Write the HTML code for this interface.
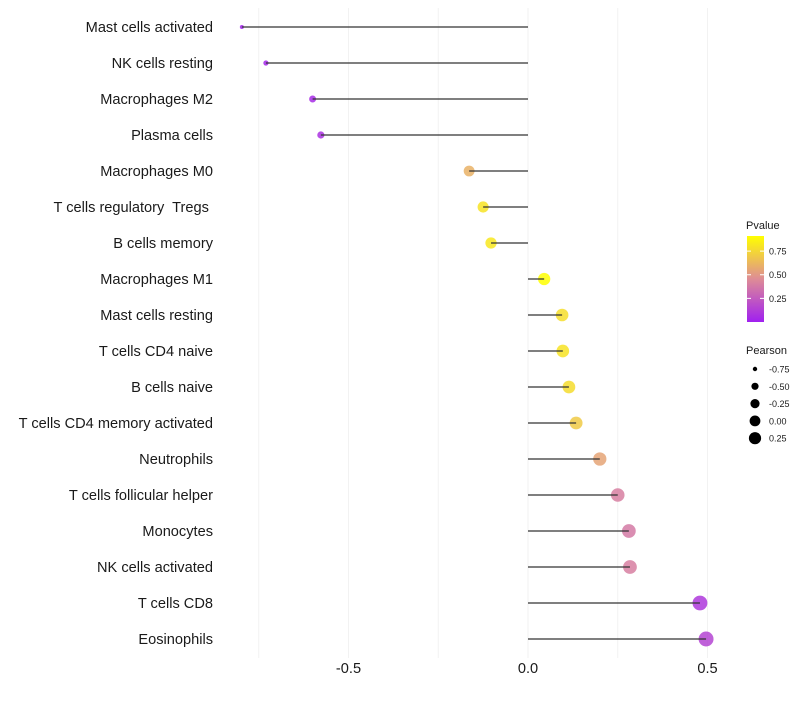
<!DOCTYPE html>
<html><head><meta charset="utf-8"><style>
body{margin:0;background:#fff;font-family:"Liberation Sans",sans-serif}
text{white-space:pre}
</style></head><body>
<svg id="c" width="800" height="700" xmlns="http://www.w3.org/2000/svg"></svg>
<script>
const cells=["Mast cells activated","NK cells resting","Macrophages M2","Plasma cells","Macrophages M0","T cells regulatory  Tregs ","B cells memory","Macrophages M1","Mast cells resting","T cells CD4 naive","B cells naive","T cells CD4 memory activated","Neutrophils","T cells follicular helper","Monocytes","NK cells activated","T cells CD8","Eosinophils"];
const pearson=[-0.797,-0.73,-0.60,-0.577,-0.164,-0.125,-0.103,0.045,0.095,0.097,0.114,0.134,0.20,0.25,0.281,0.284,0.479,0.496];
const pvalue=[0.02,0.03,0.05,0.07,0.6,0.8,0.82,0.91,0.78,0.8,0.77,0.7,0.55,0.4,0.38,0.4,0.1,0.15];
const xTicks=[-0.5,0.0,0.5];
const xTickLabels=["-0.5","0.0","0.5"];
const pTicks=[0.25,0.5,0.75];
const pTickLabels=["0.25","0.50","0.75"];
const sizeLegend=[-0.75,-0.5,-0.25,0,0.25];
const sizeLegendLabels=["-0.75","-0.50","-0.25","0.00","0.25"];

const svg=document.getElementById('c');
const NS='http://www.w3.org/2000/svg';
function mk(t,a,p){const e=document.createElementNS(NS,t);for(const k in a)e.setAttribute(k,a[k]);(p||svg).appendChild(e);return e;}
const x=v=>528+v*359;
const y=i=>27+i*36;
const r=v=>Math.sqrt(Math.max(3,4+(v+0.8)*40));
function col(p){const t=Math.min(1,Math.max(0,p/0.91));
 const s=[[160,32,240],[222,140,150],[255,255,0]];
 let a,b,u; if(t<0.5){a=s[0];b=s[1];u=t/0.5}else{a=s[1];b=s[2];u=(t-0.5)/0.5}
 return 'rgb('+a.map((c,i)=>Math.round(c+(b[i]-c)*u)).join(',')+')';}

const grid=mk('g',{});


for(let v=-0.75;v<=0.5001;v+=0.25){const l=mk('line',{x1:x(v),x2:x(v),y1:8,y2:658,stroke:'#f2f2f2','stroke-width':1},grid);

}

cells.forEach((c,i)=>{
 const t=mk('text',{x:213,y:y(i)+5,'text-anchor':'end','font-size':14.6,fill:'#1a1a1a'});
 t.textContent=c;
 
 
 const d=mk('circle',{cx:x(pearson[i]),cy:y(i),r:r(pearson[i]),fill:col(pvalue[i]),'fill-opacity':0.85});
 
 
 const l=mk('line',{x1:x(0),x2:x(pearson[i]),y1:y(i),y2:y(i),stroke:'#333','stroke-width':1.2});
 
 
});
xTicks.forEach((v,i)=>{const t=mk('text',{x:x(v),y:673,'text-anchor':'middle','font-size':14.6,fill:'#1a1a1a'});
 t.textContent=xTickLabels[i];
 
 });

const lg=mk('g',{});


const tt=mk('text',{x:746,y:229,'font-size':11,fill:'#1a1a1a'},lg);tt.textContent='Pvalue';
const defs=mk('defs',{});
const gr=mk('linearGradient',{id:'pg',x1:0,y1:1,x2:0,y2:0},defs);
[0,0.25,0.5,0.75,1].forEach(o=>mk('stop',{offset:o,'stop-color':col(o*0.91)},gr));
const bar=mk('rect',{x:747,y:236,width:17,height:86,fill:'url(#pg)'},lg);


const py=p=>322-p/0.91*86;
pTicks.forEach((p,i)=>{mk('line',{x1:747,x2:751,y1:py(p),y2:py(p),stroke:'#fff'},lg);mk('line',{x1:760,x2:764,y1:py(p),y2:py(p),stroke:'#fff'},lg);
 const t=mk('text',{x:769,y:py(p)+3.5,'font-size':9,fill:'#1a1a1a'},lg);t.textContent=pTickLabels[i];});
const sg=mk('g',{});


const st=mk('text',{x:746,y:354,'font-size':11,fill:'#1a1a1a'},sg);st.textContent='Pearson';
sizeLegend.forEach((v,i)=>{const cy=369+i*17.3;
 mk('circle',{cx:755,cy:cy,r:r(v)*0.9,fill:'#000'},sg);
 const t=mk('text',{x:769,y:cy+3.5,'font-size':9,fill:'#1a1a1a'},sg);t.textContent=sizeLegendLabels[i];});
</script>
</body></html>
